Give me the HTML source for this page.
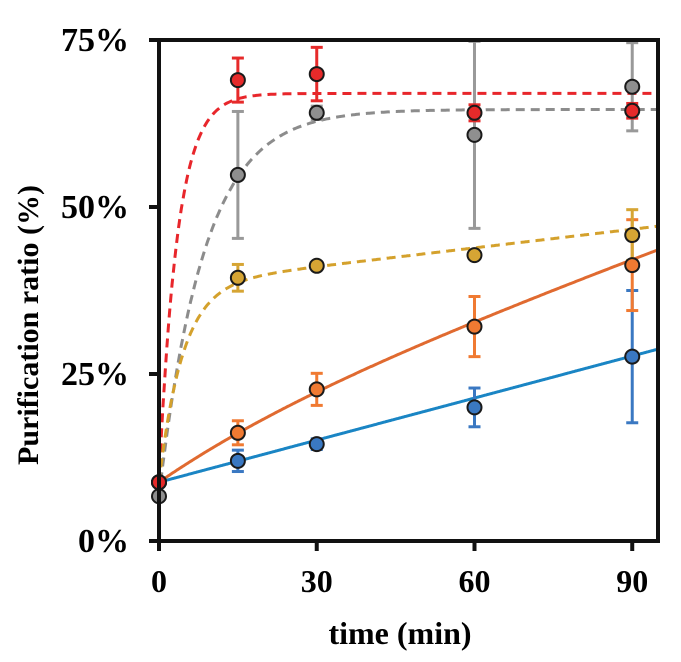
<!DOCTYPE html>
<html><head><meta charset="utf-8"><style>
html,body{margin:0;padding:0;background:#fff;width:681px;height:662px;overflow:hidden}
svg{display:block}
text{font-family:"Liberation Serif",serif;font-weight:bold;fill:#000}
</style></head><body>
<svg id="chart" width="681" height="662" viewBox="0 0 681 662" xmlns="http://www.w3.org/2000/svg">
<g id="curves"></g>
<g id="bars"></g>
<g id="pts"></g>
<g id="axes"></g>
</svg>
<script>
const times=[0,15,30,60,90];
const xTicks=[0,30,60,90];
const yTicks=[0,25,50,75];
const yTickLabels=["0%","25%","50%","75%"];
const redVals=[8.8,69.0,69.9,64.1,64.4];
const redErr=[0,3.3,4,1.2,1.1];
const greyVals=[6.7,54.8,64.1,60.8,68.0];
const greyErr=[0,9.5,1,14,6.6];
const goldVals=[8.8,39.4,41.2,42.8,45.8];
const goldErr=[0,2,0.5,0.5,3.8];
const orangeVals=[8.8,16.2,22.7,32.1,41.3];
const orangeErr=[0,1.8,2.4,4.5,6.8];
const blueVals=[8.8,12.0,14.5,20.0,27.6];
const blueErr=[0,1.6,0.8,2.9,9.9];

const X0=159,X1=658,Y0=541,Y1=40,TMAX=94.9,VMAX=75;
const sx=t=>X0+(t/TMAX)*(X1-X0);
const sy=v=>Y0-(v/VMAX)*(Y0-Y1);
const NS="http://www.w3.org/2000/svg";
function mk(tag,parent,attrs){const e=document.createElementNS(NS,tag);for(const k in attrs)e.setAttribute(k,attrs[k]);parent.appendChild(e);return e;}

const fits=[
 {name:'red-fit',col:'#e8262b',dash:'9,6',f:t=>8.8+58.2*(1-Math.exp(-t/3.5))},
 {name:'grey-fit',col:'#8c8c8c',dash:'9,6',f:t=>6.7+57.9*(1-Math.exp(-t/8.6))},
 {name:'gold-fit',col:'#d4a12c',dash:'9,6',f:t=>8.8+29.5*(1-Math.exp(-t/4.5))+0.093*t},
 {name:'orange-fit',col:'#e06a30',dash:'',f:t=>8.8+7.6*(1-Math.exp(-t/30))+0.29*t},
 {name:'blue-fit',col:'#1a85c4',dash:'',f:t=>8.8+0.21*t}
];
const cg=document.getElementById('curves');
fits.forEach(c=>{let d='';for(let t=0;t<=TMAX;t+=0.25){const v=Math.min(c.f(t),75);d+=(d?'L':'M')+sx(t).toFixed(1)+','+sy(v).toFixed(1);}
 const p=mk('path',cg,{d:d,fill:'none',stroke:c.col,'stroke-width':3,'stroke-dasharray':c.dash});
 
 
});

const series=[
 {name:'blue',vals:blueVals,err:blueErr,fill:'#3a78c2',bar:'#3a78c2'},
 {name:'orange',vals:orangeVals,err:orangeErr,fill:'#f07a32',bar:'#f07a32'},
 {name:'gold',vals:goldVals,err:goldErr,fill:'#d6a534',bar:'#d6a534'},
 {name:'grey',vals:greyVals,err:greyErr,fill:'#8f8f8f',bar:'#999'},
 {name:'red',vals:redVals,err:redErr,fill:'#e62a2a',bar:'#e62a2a'}
];
const bg=document.getElementById('bars'),pg=document.getElementById('pts');
series.forEach(s=>{
 s.vals.forEach((v,i)=>{
  const x=sx(times[i]);
  if(s.err[i]>0){
   const top=sy(Math.min(v+s.err[i],75)),bot=sy(v-s.err[i]);
   const g=mk('g',bg,{stroke:s.bar,'stroke-width':3});
   
   
   mk('line',g,{x1:x,y1:top,x2:x,y2:bot});
   mk('line',g,{x1:x-6,y1:top,x2:x+6,y2:top});
   mk('line',g,{x1:x-6,y1:bot,x2:x+6,y2:bot});
  }
  const c=mk('circle',pg,{cx:x,cy:sy(v),r:7,fill:s.fill,stroke:'#1a1a1a','stroke-width':2});
  
  
 });
});

const ag=document.getElementById('axes');
const frame=mk('rect',ag,{x:X0,y:Y1,width:X1-X0,height:Y0-Y1,fill:'none',stroke:'#111','stroke-width':4});


yTicks.forEach((v,i)=>{const y=sy(v);
 mk('line',ag,{x1:X0-10,y1:y,x2:X0,y2:y,stroke:'#111','stroke-width':4});
 const t=mk('text',ag,{x:129,y:y+11,'text-anchor':'end','font-size':34});
 t.textContent=yTickLabels[i];
 
 
});
xTicks.forEach(v=>{const x=sx(v);
 mk('line',ag,{x1:x,y1:Y0,x2:x,y2:Y0+10,stroke:'#111','stroke-width':4});
 const t=mk('text',ag,{x:x,y:Y0+51,'text-anchor':'middle','font-size':32});
 t.textContent=v;
 
 
});
const xt=mk('text',ag,{x:400,y:644,'text-anchor':'middle','font-size':32});
xt.textContent='time (min)';


const yt=mk('text',ag,{x:0,y:0,'text-anchor':'middle','font-size':30,transform:'translate(38,325) rotate(-90)'});
yt.textContent='Purification ratio (%)';


</script>
</body></html>
